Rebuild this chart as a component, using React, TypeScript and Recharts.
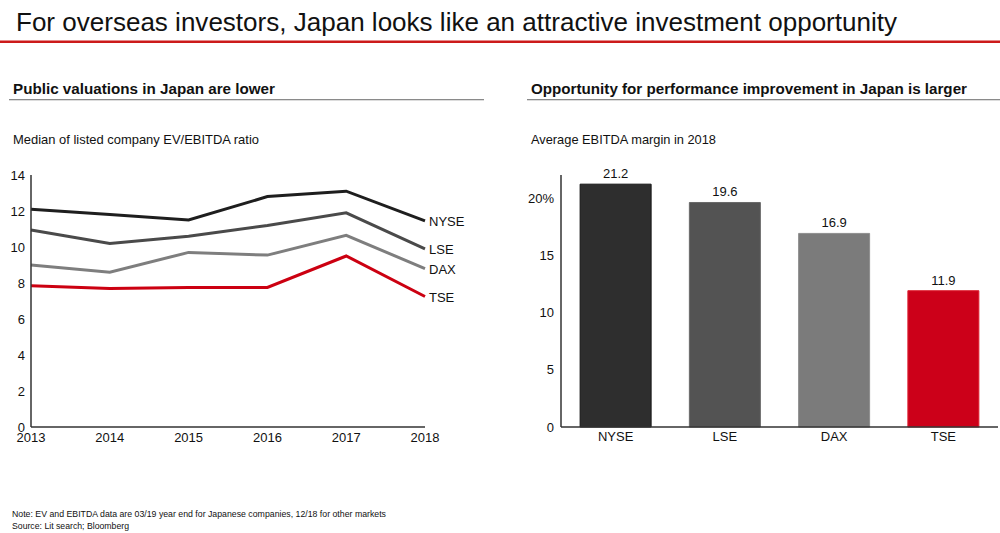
import React from "react";
import { LineChart, Line, BarChart, Bar, XAxis, YAxis, LabelList, Cell } from "recharts";

const years = ["2013", "2014", "2015", "2016", "2017", "2018"];
const nyse = [12.1, 11.8, 11.5, 12.8, 13.1, 11.45];
const lse = [10.95, 10.2, 10.6, 11.2, 11.9, 9.9];
const dax = [9.0, 8.6, 9.7, 9.55, 10.65, 8.8];
const tse = [7.85, 7.7, 7.75, 7.75, 9.5, 7.25];
const leftTicks = [0, 2, 4, 6, 8, 10, 12, 14];

const markets = ["NYSE", "LSE", "DAX", "TSE"];
const margins = [21.2, 19.6, 16.9, 11.9];
const barColors = ["#2e2e2e", "#535353", "#7b7b7b", "#cc0019"];
const barStrokes = ["#151515", "#6a6a6a", "#8e8e8e", "#dd2233"];
const rightTicks = [0, 5, 10, 15, 20];

const lineSeries = [
  { key: "NYSE", values: nyse, color: "#1e1e1e" },
  { key: "LSE", values: lse, color: "#4a4a4a" },
  { key: "DAX", values: dax, color: "#7e7e7e" },
  { key: "TSE", values: tse, color: "#cc0011" },
];

const lineData = years.map((y, i) => {
  const row: any = { year: y };
  lineSeries.forEach((s) => (row[s.key] = s.values[i]));
  return row;
});

const barData = markets.map((m, i) => ({ market: m, value: margins[i] }));

const FONT = "'Liberation Sans', Arial, sans-serif";
const tickStyle = { fontSize: 13, fill: "#111", fontFamily: FONT };

const endLabel = (name: string, last: number) => (props: any) => {
  if (props.index !== last) return <g />;
  return (
    <text x={props.x + 4} y={props.y + 5} fontSize={13} fill="#111" fontFamily={FONT}>
      {name}
    </text>
  );
};

export default function App() {
  return (
    <div style={{ position: "absolute", left: 0, top: 0, width: 1000, height: 533, background: "#fff", fontFamily: FONT }}>
      <svg width={1000} height={533} style={{ position: "absolute", left: 0, top: 0 }}>
        <text x={16} y={31} fontSize={26} fill="#111" fontFamily={FONT} textLength={881} lengthAdjust="spacingAndGlyphs">
          For overseas investors, Japan looks like an attractive investment opportunity
        </text>
        <rect x={0} y={40.5} width={1000} height={2.5} fill="#cc1a1a" />
        <text x={13} y={93.5} fontSize={14} fontWeight="bold" fill="#111" fontFamily={FONT} textLength={262} lengthAdjust="spacingAndGlyphs">
          Public valuations in Japan are lower
        </text>
        <rect x={9} y={99} width={475} height={1.3} fill="#8a8a8a" />
        <text x={531} y={93.5} fontSize={14} fontWeight="bold" fill="#111" fontFamily={FONT} textLength={436} lengthAdjust="spacingAndGlyphs">
          Opportunity for performance improvement in Japan is larger
        </text>
        <rect x={527} y={99} width={473} height={1.3} fill="#8a8a8a" />
        <text x={13} y={144} fontSize={13} fill="#111" fontFamily={FONT} textLength={246} lengthAdjust="spacingAndGlyphs">
          Median of listed company EV/EBITDA ratio
        </text>
        <text x={531} y={144} fontSize={13} fill="#111" fontFamily={FONT} textLength={185} lengthAdjust="spacingAndGlyphs">
          Average EBITDA margin in 2018
        </text>
        <text x={12} y={517} fontSize={9} fill="#111" fontFamily={FONT} textLength={374} lengthAdjust="spacingAndGlyphs">
          Note: EV and EBITDA data are 03/19 year end for Japanese companies, 12/18 for other markets
        </text>
        <text x={12} y={529} fontSize={9} fill="#111" fontFamily={FONT} textLength={117} lengthAdjust="spacingAndGlyphs">
          Source: Lit search; Bloomberg
        </text>
      </svg>

      <div style={{ position: "absolute", left: 0, top: 160 }}>
        <LineChart width={480} height={290} data={lineData} margin={{ top: 15, right: 55, bottom: 0, left: 0 }}>
          <XAxis
            dataKey="year"
            tick={tickStyle}
            tickLine={false}
            tickSize={0}
            tickMargin={6}
            height={23}
            interval={0}
            padding={{ left: 0, right: 0 }}
            axisLine={{ stroke: "#333", strokeWidth: 1.5 }}
          />
          <YAxis
            domain={[0, 14]}
            ticks={leftTicks}
            width={31}
            tick={tickStyle}
            tickLine={false}
            tickSize={0}
            tickMargin={6}
            interval={0}
            axisLine={{ stroke: "#333", strokeWidth: 1.5 }}
          />
          {lineSeries.map((s) => (
            <Line
              key={s.key}
              dataKey={s.key}
              stroke={s.color}
              strokeWidth={3}
              dot={false}
              activeDot={false}
              type="linear"
              isAnimationActive={false}
              label={endLabel(s.key, years.length - 1)}
            />
          ))}
        </LineChart>
      </div>

      <div style={{ position: "absolute", left: 510, top: 160 }}>
        <BarChart width={490} height={290} data={barData} margin={{ top: 15, right: 2, bottom: 0, left: 0 }} barCategoryGap="17.5%">
          <XAxis
            dataKey="market"
            tick={tickStyle}
            tickLine={false}
            tickSize={0}
            tickMargin={5}
            height={23}
            interval={0}
            axisLine={{ stroke: "#333", strokeWidth: 1.5 }}
          />
          <YAxis
            domain={[0, 22]}
            ticks={rightTicks}
            width={51}
            tick={tickStyle}
            tickLine={false}
            tickSize={0}
            tickMargin={7}
            interval={0}
            tickFormatter={(v: number) => (v === 20 ? "20%" : String(v))}
            axisLine={{ stroke: "#333", strokeWidth: 1.5 }}
          />
          <Bar dataKey="value" isAnimationActive={false}>
            {barData.map((d, i) => (
              <Cell key={d.market} fill={barColors[i]} stroke={barStrokes[i]} strokeWidth={1} />
            ))}
            <LabelList dataKey="value" position="top" offset={6} style={{ fontSize: 13, fill: "#111", fontFamily: FONT }} />
          </Bar>
        </BarChart>
      </div>
    </div>
  );
}
